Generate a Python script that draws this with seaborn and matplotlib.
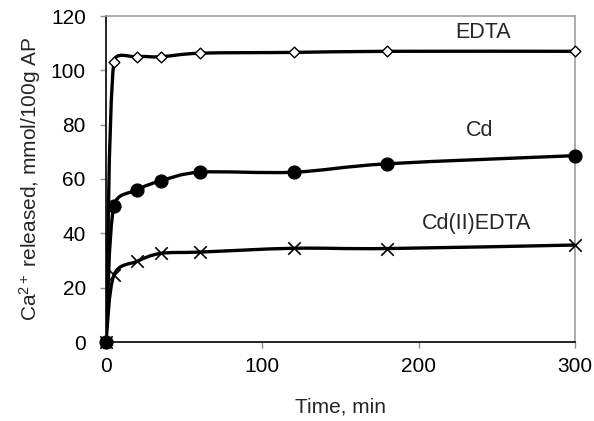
import numpy as np
import pandas as pd
import matplotlib
matplotlib.use("Agg")
import matplotlib.pyplot as plt
from matplotlib.path import Path
from matplotlib.patches import PathPatch
import seaborn as sns

time_min = [0, 5, 20, 35, 60, 120, 180, 300]
edta = [0, 103, 105, 105, 106.3, 106.6, 107, 107]
cd = [0, 50, 56, 59.3, 62.5, 62.5, 65.6, 68.6]
cd_edta = [0, 24.5, 29.7, 32.6, 33.1, 34.5, 34.4, 35.7]

series_names = ["EDTA", "Cd", "Cd(II)EDTA"]
series_values = [edta, cd, cd_edta]
x_ticks = [0, 100, 200, 300]
y_ticks = [0, 20, 40, 60, 80, 100, 120]

sns.set_theme(style="white")
plt.rcParams["font.family"] = ["Liberation Sans", "DejaVu Sans"]
plt.rcParams["mathtext.fontset"] = "custom"
plt.rcParams["mathtext.rm"] = "Liberation Sans"
plt.rcParams["mathtext.it"] = "Liberation Sans:italic"

FS = 15

fig = plt.figure(figsize=(5.94, 4.21), dpi=100)
ax = fig.add_axes([106/594, (421-342)/421, (575-106)/594, (342-16)/421])
ax.set_xlim(0, 300)
ax.set_ylim(0, 120)

rows = []
for name, vals in zip(series_names, series_values):
    for t, v in zip(time_min, vals):
        rows.append({"time": t, "value": v, "series": name})
df = pd.DataFrame(rows)


def smooth_path(xs, ys, k=1/6, cap=0.5):
    # Excel-like smoothed line, computed in display space then mapped back
    disp = ax.transData.transform(np.column_stack([xs, ys]).astype(float))
    n = len(disp)
    verts = [disp[0]]
    codes = [Path.MOVETO]
    for i in range(n - 1):
        p0 = disp[i - 1] if i > 0 else disp[i]
        p1 = disp[i]
        p2 = disp[i + 1]
        p3 = disp[i + 2] if i + 2 < n else disp[i + 1]
        seg = np.linalg.norm(p2 - p1)
        d1 = (p2 - p0) * k
        d2 = (p3 - p1) * k
        for d in (d1, d2):
            L = np.linalg.norm(d)
            if L > cap * seg and L > 0:
                d *= cap * seg / L
        verts += [p1 + d1, p2 - d2, p2]
        codes += [Path.CURVE4] * 3
    data_verts = ax.transData.inverted().transform(np.array(verts))
    return Path(data_verts, codes)


for name in series_names:
    sub = df[df.series == name]
    patch = PathPatch(smooth_path(sub.time.values, sub.value.values),
                      fill=False, edgecolor="black", lw=2.4,
                      capstyle="round", joinstyle="round", zorder=2)
    ax.add_patch(patch)

marker_style = {
    "EDTA": dict(marker="D", s=30, facecolor="white", edgecolor="black", linewidth=1.0, zorder=3),
    "Cd(II)EDTA": dict(marker="x", s=80, color="black", linewidth=1.2, zorder=4),
    "Cd": dict(marker="o", s=85, facecolor="black", edgecolor="black", linewidth=1.0, zorder=5),
}
for name in ["EDTA", "Cd(II)EDTA", "Cd"]:
    sub = df[df.series == name]
    sns.scatterplot(data=sub, x="time", y="value", ax=ax,
                    legend=False, clip_on=False, **marker_style[name])

ax.set_xlim(0, 300)
ax.set_ylim(0, 120)
ax.set_xticks(x_ticks)
ax.set_yticks(y_ticks)
ax.tick_params(axis="both", which="major", labelsize=FS, colors="#909090",
               labelcolor="black", length=4.5, width=1, direction="out")
ax.tick_params(axis="y", pad=10, left=True)
ax.tick_params(axis="x", pad=6, bottom=True)

for side in ["top", "right"]:
    ax.spines[side].set_color("#a0a0a0")
    ax.spines[side].set_linewidth(1.2)
for side in ["left", "bottom"]:
    ax.spines[side].set_color("black")
    ax.spines[side].set_linewidth(1.2)

ax.set_xlabel("Time, min", fontsize=FS)
ax.set_ylabel("Ca$^{2+}$ released, mmol/100g AP", fontsize=FS)
ax.yaxis.set_label_coords(-0.135, 0.5)
ax.xaxis.set_label_coords(0.5, -0.17)

ax.annotate("EDTA", xy=(483/594, 1 - 32/421), xycoords="figure fraction",
            ha="center", va="center", fontsize=FS + 0.5)
ax.annotate("Cd", xy=(480/594, 1 - 131/421), xycoords="figure fraction",
            ha="center", va="center", fontsize=FS + 0.5)
ax.annotate("Cd(II)EDTA", xy=(477/594, 1 - 223/421), xycoords="figure fraction",
            ha="center", va="center", fontsize=FS + 0.5)

fig.savefig("out.png", dpi=100)
